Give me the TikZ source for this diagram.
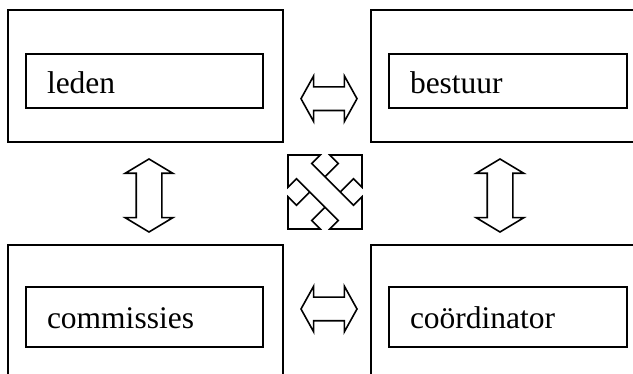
\documentclass[tikz,border=0pt]{standalone}
\usepackage{fontspec}
\setmainfont{Liberation Serif}
\usetikzlibrary{shapes.arrows}

\begin{document}
\begin{tikzpicture}[x=1pt,y=1pt,
  frame/.style={draw, line width=1.8pt, minimum width=275pt, minimum height=132pt, inner sep=0pt},
  unit/.style={draw, line width=1.8pt, inner ysep=0pt, inner xsep=21pt, align=left, font=\fontsize{31.5}{36}\selectfont},
  link/.style={double arrow, draw, fill=white, line width=1.6pt, inner xsep=0pt, minimum width=0pt}]
\useasboundingbox (0,0) rectangle (633,-374);
\clip (0,0) rectangle (633,-374);

\node[frame] (a1) at (145.5,-76) {};
\node[frame] (a2) at (508.5,-76) {};
\node[frame] (a3) at (145.5,-311) {};
\node[frame] (a4) at (508.5,-311) {};

\node[unit, text width=195pt, text height=39.5pt, text depth=14.5pt] (b1) at (144.5,-81) {leden};
\node[unit, text width=196pt, text height=39.5pt, text depth=14.5pt] (b2) at (508,-81) {bestuur};
\node[unit, text width=195pt, text height=41.3pt, text depth=18.7pt] (b3) at (144.5,-317) {commissies};
\node[unit, text width=196pt, text height=41.3pt, text depth=18.7pt] (b4) at (508,-317) {coördinator};

\node[link, minimum height=56pt, inner ysep=11pt, double arrow head extend=11pt, double arrow tip angle=122] (c1) at (329,-98.7) {};
\node[link, minimum height=56pt, inner ysep=11pt, double arrow head extend=11pt, double arrow tip angle=122] (c2) at (329,-309) {};
\node[link, rotate=90, minimum height=73pt, inner ysep=12pt, double arrow head extend=11pt, double arrow tip angle=118] (c3) at (149,-195.5) {};
\node[link, rotate=90, minimum height=73pt, inner ysep=12pt, double arrow head extend=11pt, double arrow tip angle=118] (c4) at (500,-195.5) {};

\node[link, rotate=45, minimum height=104.7pt, inner ysep=10pt, double arrow head extend=12pt, double arrow tip angle=90] (c5) at (325,-192) {};
\node[link, rotate=-45, minimum height=104.7pt, inner ysep=10pt, double arrow head extend=12pt, double arrow tip angle=90] (c6) at (325,-192) {};
\end{tikzpicture}
\end{document}
